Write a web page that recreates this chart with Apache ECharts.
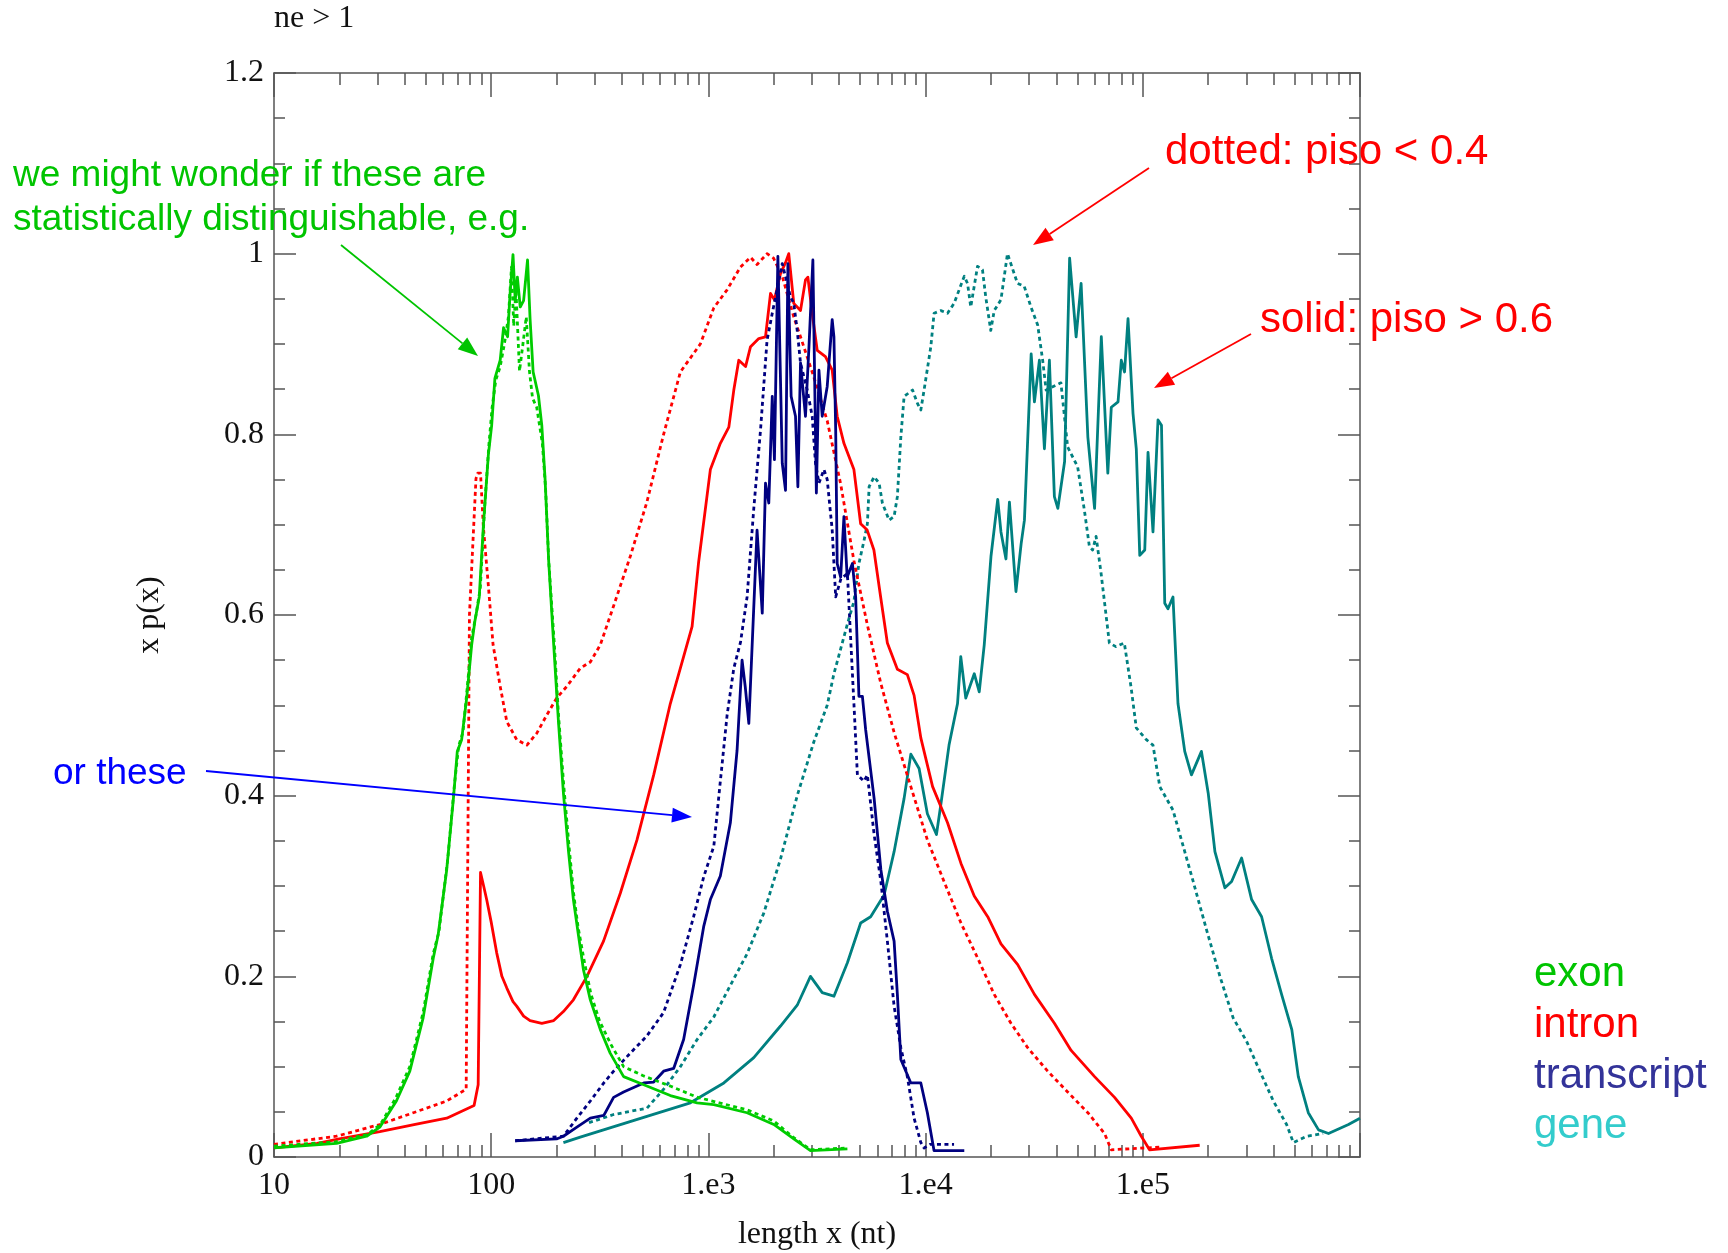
<!DOCTYPE html>
<html>
<head>
<meta charset="utf-8">
<script src="https://cdn.jsdelivr.net/npm/echarts@6/dist/echarts.min.js"></script>
<style>
html,body{margin:0;padding:0;background:#ffffff;}
#chart{width:1728px;height:1253px;}
</style>
</head>
<body>
<div id="chart"></div>
<script>
// ---------- tick labels ----------
const xTickValues = [10, 100, 1000, 10000, 100000];
const xTickLabels = ['10', '100', '1.e3', '1.e4', '1.e5'];
const xMinorTickValues = [20,30,40,50,60,70,80,90,
  200,300,400,500,600,700,800,900,
  2000,3000,4000,5000,6000,7000,8000,9000,
  20000,30000,40000,50000,60000,70000,80000,90000,
  200000,300000,400000,500000,600000,700000,800000,900000];

// ---------- exon ----------
const exonSolidX = [10, 19.4, 26.7, 30.7, 36.6, 42.2, 48.6, 54.1, 57, 62.4, 67, 69.8, 73.1, 77.1, 81.3, 84.1, 88.1, 92, 97, 100.5, 104, 110, 114, 119, 122, 126, 129, 132, 136, 141, 147, 151, 156, 165, 171, 177, 184, 194, 204, 215, 227, 239, 252, 266, 286, 318, 353, 407, 504, 668, 887, 1059, 1507, 2000, 2472, 2951, 4365];
const exonSolidY = [0.01, 0.015, 0.023, 0.033, 0.062, 0.095, 0.154, 0.22, 0.246, 0.318, 0.397, 0.449, 0.462, 0.508, 0.567, 0.593, 0.62, 0.698, 0.777, 0.81, 0.862, 0.882, 0.918, 0.908, 0.954, 0.999, 0.948, 0.974, 0.941, 0.948, 0.993, 0.928, 0.869, 0.843, 0.81, 0.751, 0.659, 0.567, 0.482, 0.403, 0.338, 0.285, 0.246, 0.207, 0.174, 0.141, 0.115, 0.089, 0.08, 0.068, 0.06, 0.058, 0.049, 0.036, 0.02, 0.007, 0.009];
const exonDottedX = [10, 19.4, 26.9, 30.9, 36.3, 42.2, 48.6, 54.1, 57.5, 63.1, 67.6, 70.8, 74.1, 77.6, 81.3, 85.1, 89.1, 93.3, 97.7, 101, 105, 110, 115, 120, 124, 127, 130, 135, 140, 145, 150, 155, 162, 172, 178, 184, 195, 204, 216, 229, 240, 251, 269, 288, 316, 355, 407, 501, 676, 891, 1122, 1514, 1995, 2455, 2951, 4365];
const exonDottedY = [0.012, 0.017, 0.025, 0.036, 0.065, 0.1, 0.16, 0.225, 0.25, 0.33, 0.41, 0.455, 0.47, 0.52, 0.575, 0.6, 0.63, 0.72, 0.79, 0.83, 0.86, 0.875, 0.9, 0.93, 0.985, 0.92, 0.96, 0.87, 0.9, 0.93, 0.87, 0.84, 0.83, 0.79, 0.74, 0.66, 0.57, 0.49, 0.41, 0.34, 0.29, 0.255, 0.215, 0.18, 0.15, 0.125, 0.1, 0.09, 0.078, 0.066, 0.06, 0.052, 0.04, 0.022, 0.008, 0.01];

// ---------- intron ----------
const intronSolidX = [10, 15.8, 20, 30.7, 44.7, 62.4, 83.4, 87.1, 89.3, 92.3, 95.3, 100, 106, 112, 118, 126, 131, 141, 151, 171, 194, 215, 239, 276, 329, 393, 469, 560, 668, 769, 841, 902, 1021, 1135, 1242, 1309, 1380, 1483, 1563, 1706, 1832, 1932, 2014, 2148, 2265, 2344, 2472, 2655, 2799, 2871, 3006, 3170, 3459, 3715, 3917, 4207, 4677, 5023, 5383, 5781, 6209, 6668, 7413, 8241, 8851, 9506, 10770, 12620, 14550, 16750, 19320, 22230, 26550, 31700, 39170, 46770, 59980, 74130, 88510, 98400, 107400, 182800];
const intronSolidY = [0.01, 0.015, 0.02, 0.028, 0.036, 0.043, 0.057, 0.08, 0.315, 0.3, 0.285, 0.26, 0.226, 0.2, 0.187, 0.172, 0.167, 0.156, 0.151, 0.148, 0.151, 0.161, 0.174, 0.2, 0.239, 0.292, 0.351, 0.423, 0.502, 0.554, 0.587, 0.659, 0.761, 0.79, 0.808, 0.849, 0.882, 0.875, 0.897, 0.906, 0.908, 0.956, 0.949, 0.978, 0.99, 1.0, 0.945, 0.937, 0.971, 0.974, 0.934, 0.893, 0.886, 0.871, 0.82, 0.79, 0.761, 0.701, 0.694, 0.672, 0.62, 0.569, 0.54, 0.534, 0.511, 0.464, 0.41, 0.37, 0.325, 0.289, 0.266, 0.236, 0.213, 0.18, 0.148, 0.118, 0.089, 0.066, 0.043, 0.023, 0.008, 0.013];
const intronDottedX = [10, 19.4, 30.7, 43.8, 62.4, 76.7, 79.4, 85.1, 86.7, 89.3, 92, 97, 102, 110, 118, 131, 146, 162, 180, 200, 223, 257, 286, 318, 366, 437, 521, 622, 743, 918, 1059, 1219, 1403, 1563, 1675, 1862, 1995, 2188, 2472, 2655, 3062, 3524, 4064, 4677, 5383, 6209, 7161, 8551, 10190, 12160, 14550, 17380, 20700, 24720, 29510, 36480, 45080, 55850, 66680, 71610, 121600];
const intronDottedY = [0.014, 0.023, 0.036, 0.049, 0.062, 0.075, 0.6, 0.751, 0.757, 0.757, 0.698, 0.633, 0.567, 0.521, 0.482, 0.462, 0.456, 0.469, 0.489, 0.508, 0.521, 0.541, 0.548, 0.567, 0.61, 0.665, 0.725, 0.8, 0.869, 0.9, 0.94, 0.96, 0.985, 0.996, 0.988, 1.0, 0.995, 0.975, 0.93, 0.908, 0.863, 0.815, 0.745, 0.66, 0.59, 0.525, 0.47, 0.41, 0.351, 0.305, 0.259, 0.22, 0.18, 0.148, 0.121, 0.095, 0.072, 0.049, 0.026, 0.008, 0.011];

// ---------- transcript ----------
const transcriptSolidX = [129, 200, 215, 248, 286, 330, 366, 407, 504, 560, 622, 692, 769, 855, 951, 1021, 1135, 1262, 1355, 1429, 1479, 1535, 1675, 1770, 1832, 1897, 1968, 2014, 2089, 2188, 2265, 2323, 2404, 2518, 2582, 2655, 2799, 2904, 3027, 3141, 3228, 3342, 3524, 3715, 3784, 3855, 3917, 4064, 4207, 4355, 4603, 4764, 4932, 5117, 5297, 5794, 6223, 6668, 7161, 7413, 7691, 8110, 8551, 9506, 10190, 10770, 10940, 15070];
const transcriptSolidY = [0.018, 0.02, 0.023, 0.033, 0.043, 0.046, 0.066, 0.072, 0.082, 0.083, 0.095, 0.098, 0.13, 0.19, 0.255, 0.285, 0.311, 0.37, 0.45, 0.55, 0.52, 0.48, 0.694, 0.602, 0.746, 0.724, 0.842, 0.772, 0.997, 0.768, 0.738, 0.989, 0.842, 0.82, 0.742, 0.879, 0.82, 0.897, 0.993, 0.735, 0.871, 0.82, 0.853, 0.927, 0.908, 0.805, 0.657, 0.642, 0.709, 0.642, 0.657, 0.62, 0.51, 0.51, 0.473, 0.397, 0.318, 0.272, 0.239, 0.18, 0.108, 0.095, 0.082, 0.082, 0.049, 0.016, 0.007, 0.007];
const transcriptDottedX = [129, 215, 248, 286, 330, 366, 437, 521, 622, 743, 855, 951, 1059, 1135, 1219, 1309, 1406, 1507, 1618, 1738, 1862, 1968, 2188, 2388, 2472, 2564, 2655, 2851, 3006, 3112, 3228, 3404, 3524, 3715, 3855, 4074, 4365, 4677, 4853, 5200, 5395, 5794, 6223, 6668, 7161, 7691, 8241, 8851, 9506, 9840, 10470, 13520];
const transcriptDottedY = [0.018, 0.023, 0.043, 0.062, 0.082, 0.095, 0.115, 0.134, 0.16, 0.213, 0.266, 0.31, 0.344, 0.416, 0.489, 0.541, 0.57, 0.62, 0.718, 0.805, 0.904, 0.934, 0.989, 0.952, 0.945, 0.915, 0.879, 0.849, 0.82, 0.768, 0.746, 0.761, 0.75, 0.694, 0.62, 0.64, 0.646, 0.502, 0.423, 0.416, 0.423, 0.357, 0.305, 0.239, 0.167, 0.121, 0.089, 0.043, 0.016, 0.01, 0.014, 0.014];

// ---------- gene ----------
const geneSolidX = [215, 257, 521, 826, 1178, 1618, 2148, 2564, 2951, 3342, 3784, 4365, 5023, 5585, 6442, 7161, 7962, 8551, 9333, 10190, 11220, 11750, 12820, 14030, 14520, 15310, 16750, 17660, 18620, 20000, 21480, 22230, 23440, 24320, 26060, 27540, 28510, 30620, 31700, 33420, 35240, 37150, 39170, 40640, 43650, 46030, 49320, 52000, 55850, 59980, 64420, 69020, 71610, 76910, 79620, 82410, 85510, 90160, 93330, 96830, 102100, 105700, 111400, 117500, 121900, 126200, 130600, 137700, 145200, 156000, 167500, 186200, 200000, 214800, 238800, 256400, 285100, 317000, 352400, 391700, 435500, 485300, 520000, 578100, 644200, 716100, 885100, 1000000];
const geneSolidY = [0.016, 0.022, 0.045, 0.06, 0.082, 0.11, 0.145, 0.168, 0.2, 0.182, 0.178, 0.215, 0.259, 0.266, 0.29, 0.338, 0.397, 0.446, 0.43, 0.38, 0.357, 0.39, 0.456, 0.502, 0.554, 0.508, 0.535, 0.515, 0.567, 0.665, 0.728, 0.692, 0.662, 0.725, 0.626, 0.679, 0.705, 0.889, 0.836, 0.882, 0.784, 0.882, 0.731, 0.718, 0.77, 0.995, 0.908, 0.967, 0.797, 0.718, 0.908, 0.757, 0.83, 0.836, 0.882, 0.869, 0.928, 0.823, 0.784, 0.666, 0.672, 0.78, 0.692, 0.816, 0.81, 0.613, 0.607, 0.62, 0.502, 0.449, 0.423, 0.449, 0.403, 0.338, 0.298, 0.305, 0.331, 0.285, 0.266, 0.22, 0.18, 0.141, 0.089, 0.049, 0.03, 0.026, 0.036, 0.043];
const geneDottedX = [282, 366, 521, 622, 743, 887, 1059, 1262, 1507, 1799, 2148, 2564, 3062, 3524, 3784, 4365, 4677, 4932, 5212, 5395, 5495, 5794, 6109, 6324, 6792, 7161, 7413, 7691, 7962, 8710, 9183, 9506, 9840, 10570, 10940, 11750, 12620, 13520, 15070, 15600, 16140, 17340, 18280, 18920, 19950, 20700, 22230, 23820, 26490, 28440, 30550, 32810, 34590, 35890, 41980, 45080, 50120, 53830, 56750, 58750, 60950, 64270, 70150, 75160, 82220, 88310, 93330, 103800, 111400, 119700, 137700, 153500, 170600, 196300, 226500, 260600, 300600, 345900, 399000, 459200, 493200, 568900, 676100];
const geneDottedY = [0.038, 0.047, 0.054, 0.075, 0.1, 0.13, 0.155, 0.19, 0.225, 0.27, 0.33, 0.4, 0.46, 0.5, 0.535, 0.59, 0.615, 0.657, 0.683, 0.701, 0.742, 0.753, 0.746, 0.724, 0.705, 0.709, 0.731, 0.797, 0.842, 0.849, 0.834, 0.827, 0.849, 0.897, 0.934, 0.937, 0.934, 0.945, 0.975, 0.967, 0.941, 0.986, 0.982, 0.952, 0.915, 0.937, 0.949, 1.0, 0.967, 0.964, 0.941, 0.921, 0.882, 0.849, 0.857, 0.786, 0.764, 0.716, 0.676, 0.672, 0.687, 0.646, 0.569, 0.565, 0.569, 0.52, 0.475, 0.462, 0.456, 0.41, 0.384, 0.344, 0.305, 0.252, 0.2, 0.154, 0.128, 0.095, 0.062, 0.036, 0.016, 0.023, 0.026];

// ---------- styling ----------
const COL_EXON = '#00cc00';
const COL_INTRON = '#ff0000';
const COL_TRANSCRIPT = '#000080';
const COL_GENE = '#008080';
const SERIF = '"Liberation Serif", "DejaVu Serif", serif';
const SANS = '"Liberation Sans", Arial, sans-serif';
const AXIS = '#555555';
const DOT = [4, 3.5];
const LW = 2.8;

function pts(xs, ys) { return xs.map((x, i) => [x, ys[i]]); }
function fmtX(v) {
  for (let i = 0; i < xTickValues.length; i++) {
    if (Math.abs(Math.log10(v) - Math.log10(xTickValues[i])) < 1e-6) return xTickLabels[i];
  }
  return '';
}
function lineSeries(name, xs, ys, color, dotted) {
  return {
    name: name, type: 'line', xAxisIndex: 0, yAxisIndex: 0,
    data: pts(xs, ys), showSymbol: false, symbol: 'none', smooth: false,
    silent: true, clip: true,
    lineStyle: { color: color, width: LW, type: dotted ? DOT : 'solid', cap: 'butt', join: 'round' }
  };
}
function arrow(x1, y1, x2, y2, color, w) {
  const dx = x2 - x1, dy = y2 - y1, len = Math.hypot(dx, dy);
  const ux = dx / len, uy = dy / len, L = 20, H = 7.5;
  const bx = x2 - ux * L, by = y2 - uy * L;
  return [
    { type: 'line', silent: true, z: 100, shape: { x1: x1, y1: y1, x2: bx, y2: by }, style: { stroke: color, lineWidth: w } },
    { type: 'polygon', silent: true, z: 100, shape: { points: [[x2, y2], [bx - uy * H, by + ux * H], [bx + uy * H, by - ux * H]] }, style: { fill: color } }
  ];
}
function txt(s, x, y, color, size, family) {
  return { type: 'text', silent: true, z: 100, style: {
    text: s, x: x, y: y, fill: color, font: size + 'px ' + family,
    textAlign: 'left', textVerticalAlign: 'middle', align: 'left', verticalAlign: 'middle' } };
}

const xMinorPos = xMinorTickValues.map(v => Math.log10(v));
const commonLog = { type: 'log', logBase: 10, min: 10, max: 1000000, splitNumber: 5 };

const chart = echarts.init(document.getElementById('chart'), null, { renderer: 'canvas' });
const option = {
  animation: false,
  backgroundColor: '#ffffff',
  grid: { left: 274, top: 73, width: 1086, height: 1084, containLabel: false, outerBoundsMode: 'none' },
  xAxis: [
    Object.assign({}, commonLog, {
      position: 'bottom',
      axisLine: { show: true, onZero: false, lineStyle: { color: AXIS, width: 1.5 } },
      axisTick: { show: true, inside: true, length: 24, lineStyle: { color: AXIS, width: 1.5 } },
      minorTick: { show: false },
      axisLabel: { show: true, margin: 13, color: '#111', fontFamily: SERIF, fontSize: 32, formatter: fmtX },
      splitLine: { show: false },
      name: 'length x (nt)', nameLocation: 'middle', nameGap: 62,
      nameTextStyle: { fontFamily: SERIF, fontSize: 32, color: '#111' }
    }),
    Object.assign({}, commonLog, {
      position: 'top',
      axisLine: { show: true, onZero: false, lineStyle: { color: AXIS, width: 1.5 } },
      axisTick: { show: true, inside: true, length: 24, lineStyle: { color: AXIS, width: 1.5 } },
      minorTick: { show: false },
      axisLabel: { show: false }, splitLine: { show: false }
    }),
    { type: 'value', min: 1, max: 6, position: 'bottom',
      axisLine: { show: false, onZero: false },
      axisTick: { show: true, inside: true, length: 12, customValues: xMinorPos, lineStyle: { color: AXIS, width: 1.5 } },
      axisLabel: { show: false }, splitLine: { show: false } },
    { type: 'value', min: 1, max: 6, position: 'top',
      axisLine: { show: false, onZero: false },
      axisTick: { show: true, inside: true, length: 12, customValues: xMinorPos, lineStyle: { color: AXIS, width: 1.5 } },
      axisLabel: { show: false }, splitLine: { show: false } }
  ],
  yAxis: [
    { type: 'value', min: 0, max: 1.2, interval: 0.2, position: 'left',
      axisLine: { show: true, onZero: false, lineStyle: { color: AXIS, width: 1.5 } },
      axisTick: { show: true, inside: true, length: 22, lineStyle: { color: AXIS, width: 1.5 } },
      axisLabel: { show: true, margin: 10, color: '#111', fontFamily: SERIF, fontSize: 32 },
      splitLine: { show: false },
      name: 'x p(x)', nameLocation: 'middle', nameGap: 108, nameRotate: 90,
      nameTextStyle: { fontFamily: SERIF, fontSize: 32, color: '#111' } },
    { type: 'value', min: 0, max: 1.2, interval: 0.05, position: 'left',
      axisLine: { show: false, onZero: false },
      axisTick: { show: true, inside: true, length: 11, lineStyle: { color: AXIS, width: 1.5 } },
      axisLabel: { show: false }, splitLine: { show: false } },
    { type: 'value', min: 0, max: 1.2, interval: 0.2, position: 'right',
      axisLine: { show: true, onZero: false, lineStyle: { color: AXIS, width: 1.5 } },
      axisTick: { show: true, inside: true, length: 22, lineStyle: { color: AXIS, width: 1.5 } },
      axisLabel: { show: false }, splitLine: { show: false } },
    { type: 'value', min: 0, max: 1.2, interval: 0.05, position: 'right',
      axisLine: { show: false, onZero: false },
      axisTick: { show: true, inside: true, length: 11, lineStyle: { color: AXIS, width: 1.5 } },
      axisLabel: { show: false }, splitLine: { show: false } }
  ],
  series: [
    lineSeries('gene piso<0.4', geneDottedX, geneDottedY, COL_GENE, true),
    lineSeries('gene piso>0.6', geneSolidX, geneSolidY, COL_GENE, false),
    lineSeries('intron piso<0.4', intronDottedX, intronDottedY, COL_INTRON, true),
    lineSeries('intron piso>0.6', intronSolidX, intronSolidY, COL_INTRON, false),
    lineSeries('transcript piso<0.4', transcriptDottedX, transcriptDottedY, COL_TRANSCRIPT, true),
    lineSeries('transcript piso>0.6', transcriptSolidX, transcriptSolidY, COL_TRANSCRIPT, false),
    lineSeries('exon piso<0.4', exonDottedX, exonDottedY, COL_EXON, true),
    lineSeries('exon piso>0.6', exonSolidX, exonSolidY, COL_EXON, false)
  ],
  graphic: [].concat(
    [txt('ne > 1', 274, 19, '#111', 32, SERIF)],
    [txt('we might wonder if these are', 13, 176, '#00c400', 37, SANS),
     txt('statistically distinguishable, e.g.', 13, 220, '#00c400', 37, SANS)],
    arrow(341, 245, 478, 356, '#00c400', 1.8),
    [txt('dotted: piso < 0.4', 1165, 152, '#ff0000', 42, SANS)],
    arrow(1149, 168, 1033, 245, '#ff0000', 1.8),
    [txt('solid: piso > 0.6', 1260, 320, '#ff0000', 42, SANS)],
    arrow(1251, 334, 1154, 388, '#ff0000', 1.8),
    [txt('or these', 53, 774, '#0000ff', 37, SANS)],
    arrow(206, 771, 692, 817, '#0000ff', 1.8),
    [txt('exon', 1534, 974, '#00c400', 42, SANS),
     txt('intron', 1534, 1025, '#ff0000', 42, SANS),
     txt('transcript', 1534, 1076, '#333399', 42, SANS),
     txt('gene', 1534, 1126, '#33cccc', 42, SANS)]
  )
};
chart.setOption(option);
</script>
</body>
</html>
